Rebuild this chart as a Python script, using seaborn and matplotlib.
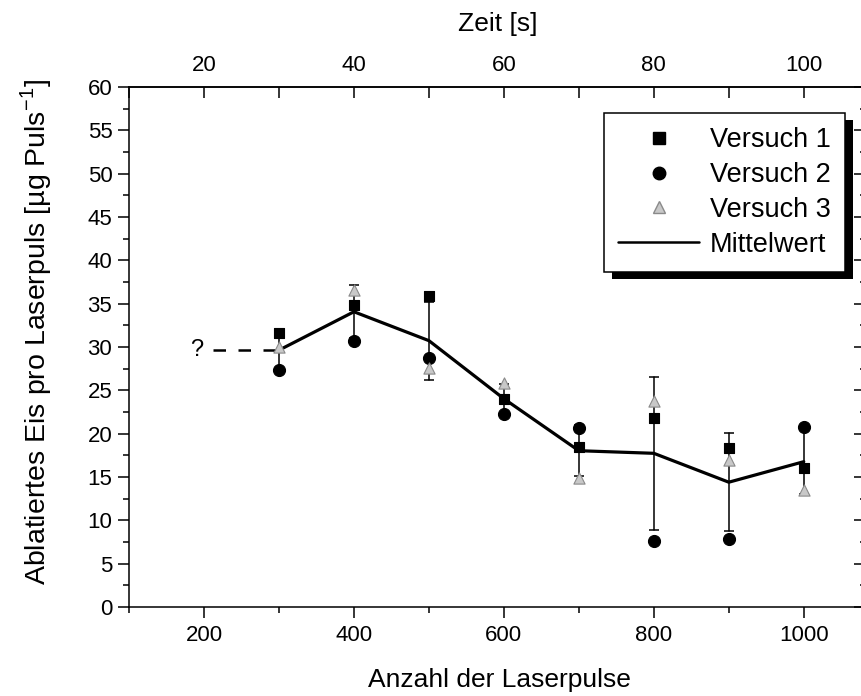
import numpy as np
import pandas as pd
import matplotlib
matplotlib.use("Agg")
import matplotlib.pyplot as plt
import seaborn as sns
from matplotlib.ticker import MultipleLocator, FixedLocator
from matplotlib.patches import Rectangle
from matplotlib.lines import Line2D

# Ablation per laser pulse for three runs
pulses = [300, 400, 500, 600, 700, 800, 900, 1000]
versuch_1 = [31.6, 34.9, 35.9, 24.0, 18.5, 21.8, 18.3, 16.0]
versuch_2 = [27.3, 30.7, 28.7, 22.3, 20.7, 7.6, 7.9, 20.8]
versuch_3 = [30.0, 36.6, 27.6, 25.8, 14.9, 23.8, 17.0, 13.5]
series_names = ["Versuch 1", "Versuch 2", "Versuch 3"]
mean_name = "Mittelwert"

x_label = "Anzahl der Laserpulse"
y_label = "Ablatiertes Eis pro Laserpuls [µg Puls$^{\\mathregular{-1}}$]"
top_label = "Zeit [s]"
time_ticks = [20, 40, 60, 80, 100]
pulses_per_second = 10
unknown_start = 212  # pulse count where the dashed "?" segment begins

df = pd.DataFrame({
    "pulses": pulses * 3,
    "value": versuch_1 + versuch_2 + versuch_3,
    "series": [n for n in series_names for _ in pulses],
})

sns.set_theme(style="ticks")
plt.rcParams["font.family"] = ["Liberation Sans", "DejaVu Sans"]
plt.rcParams["mathtext.fontset"] = "custom"
plt.rcParams["mathtext.rm"] = "Liberation Sans"
plt.rcParams["axes.linewidth"] = 1.1
for key in ["axes.edgecolor", "axes.labelcolor", "text.color",
            "xtick.color", "ytick.color", "xtick.labelcolor", "ytick.labelcolor"]:
    plt.rcParams[key] = "black"

W, H = 861, 696
fig = plt.figure(figsize=(W / 100, H / 100), dpi=100)
ax = fig.add_axes([129 / W, (H - 607) / H, (866 - 129) / W, 520 / H])

# mean line with standard-deviation error bars
sns.lineplot(data=df, x="pulses", y="value", estimator="mean", errorbar="sd",
             err_style="bars", color="black", linewidth=2.3, ax=ax,
             legend=False, zorder=2,
             err_kws=dict(capsize=3.5, elinewidth=1.1, capthick=1.1))

styles = {
    "Versuch 1": dict(marker="s", s=60, color="black", edgecolor="black"),
    "Versuch 2": dict(marker="o", s=75, color="black", edgecolor="black"),
    "Versuch 3": dict(marker="^", s=65, color="#c8c8c8", edgecolor="#8a8a8a"),
}
for name in series_names:
    sub = df[df["series"] == name]
    st = styles[name]
    sns.scatterplot(data=sub, x="pulses", y="value", marker=st["marker"],
                    s=st["s"], color=st["color"], edgecolor=st["edgecolor"],
                    linewidth=0.8, ax=ax, legend=False, zorder=3)

# dashed extrapolation towards the unknown start value
first_mean = float(np.mean([versuch_1[0], versuch_2[0], versuch_3[0]]))
ax.plot([unknown_start, pulses[0]], [first_mean, first_mean], color="black",
        linewidth=1.8, linestyle=(0, (5, 5)), zorder=2)
ax.text(unknown_start - 22, first_mean, "?", ha="center", va="center",
        fontsize=17, color="black")

ax.set_xlim(100, 1083)
ax.set_ylim(0, 60)
ax.xaxis.set_major_locator(MultipleLocator(200))
ax.xaxis.set_minor_locator(MultipleLocator(100))
ax.yaxis.set_major_locator(MultipleLocator(5))
ax.yaxis.set_minor_locator(MultipleLocator(2.5))
ax.tick_params(axis="both", which="major", direction="out", length=8,
               width=1.1, labelsize=16, color="black", pad=5)
ax.tick_params(axis="both", which="minor", direction="out", length=4.5,
               width=1.1, color="black")
ax.tick_params(axis="y", which="major", pad=4)
ax.set_xlabel(x_label, fontsize=19)
ax.set_ylabel(y_label, fontsize=20.5)
ax.xaxis.set_label_coords(0.503, -0.117)
ax.yaxis.set_label_coords(-0.102, 0.529)

# time axis on top (10 pulses per second)
top = ax.secondary_xaxis("top", functions=(lambda p: p / pulses_per_second,
                                           lambda t: t * pulses_per_second))
top.xaxis.set_major_locator(FixedLocator(time_ticks))
top.xaxis.set_minor_locator(MultipleLocator(10))
top.tick_params(axis="x", which="both", direction="in", length=8, width=1.1,
                labelsize=16, pad=8)
top.set_xlabel(top_label, fontsize=19, labelpad=17)

right = ax.secondary_yaxis("right")
right.yaxis.set_major_locator(MultipleLocator(5))
right.yaxis.set_minor_locator(MultipleLocator(2.5))
right.tick_params(axis="y", which="major", direction="in", length=9, width=1.1,
                  labelright=False)
right.tick_params(axis="y", which="minor", direction="in", length=4.5,
                  width=1.1, labelright=False)

handles = [
    Line2D([], [], linestyle="", marker="s", markersize=8, color="black"),
    Line2D([], [], linestyle="", marker="o", markersize=9, color="black"),
    Line2D([], [], linestyle="", marker="^", markersize=9,
           markerfacecolor="#c8c8c8", markeredgecolor="#8a8a8a"),
    Line2D([], [], color="black", linewidth=1.8),
]
leg = ax.legend(handles, series_names + [mean_name], loc="upper right",
                bbox_to_anchor=(0.9715, 0.95), borderaxespad=0,
                fontsize=19.5, frameon=True, fancybox=False, framealpha=1,
                edgecolor="black", handlelength=3.0, handletextpad=0.4,
                labelspacing=0.33, borderpad=0.52)
leg.get_frame().set_linewidth(1.1)

# solid drop shadow behind the legend box
fig.canvas.draw()
bb = leg.get_window_extent()
shadow = Rectangle((bb.x0 + 8, bb.y0 - 7), bb.width, bb.height,
                   transform=None, facecolor="black", edgecolor="none",
                   zorder=4.5, clip_on=False)
ax.add_artist(shadow)

fig.savefig("out.png", dpi=100)
